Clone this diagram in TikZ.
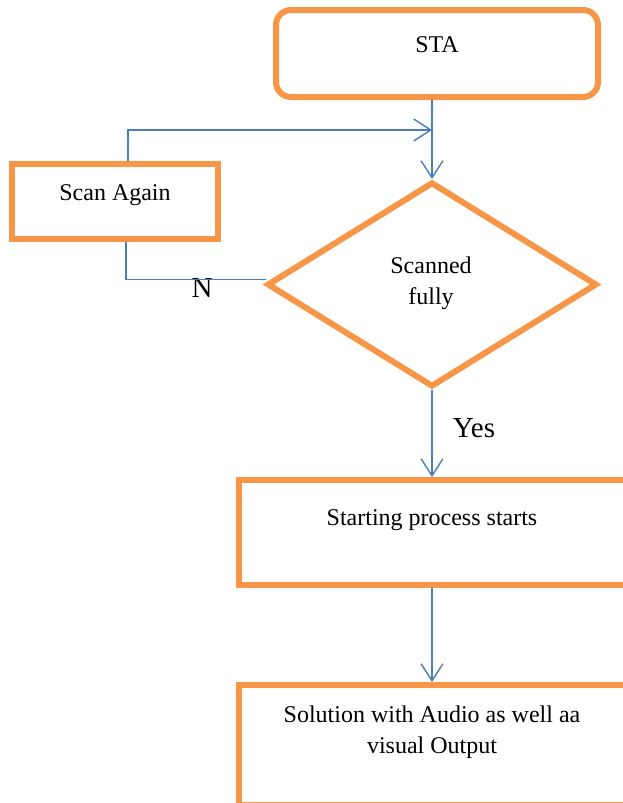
\documentclass[tikz,border=0pt]{standalone}
\usepackage{fontspec}
\setmainfont{Liberation Serif}
\usetikzlibrary{shapes.geometric,arrows.meta}
\definecolor{boxorange}{HTML}{F79646}
\definecolor{linkblue}{HTML}{4A7EBB}
\tikzset{
  box/.style={draw=boxorange, line width=6pt, fill=white, inner sep=0pt, rectangle},
  decision/.style={draw=boxorange, line width=6pt, fill=white, inner sep=0pt,
    diamond, minimum width=330pt, minimum height=205pt},
  txt/.style={inner sep=0pt, font=\fontsize{24}{31}\selectfont, align=center},
  bigtxt/.style={inner sep=0pt, font=\fontsize{29}{34}\selectfont},
  link/.style={draw=linkblue, line width=1.4pt,
    -{Straight Barb[length=17pt, width=22pt, line width=1.4pt]}},
  plain/.style={draw=linkblue, line width=1.4pt}
}
\begin{document}
\begin{tikzpicture}[x=1pt, y=-1pt]
\useasboundingbox (0,0) rectangle (623,803);
\clip (0,0) rectangle (623,803);

% boxes
\node[box, rounded corners=15pt, minimum width=322pt, minimum height=87pt] (sta) at (437,53.5) {};
\node[box, minimum width=206pt, minimum height=75pt] (scan) at (115,201.5) {};
\node[decision] (dia) at (432,284.5) {};
\node[box, minimum width=387pt, minimum height=105pt] (start) at (432.5,532.5) {};
\node[box, minimum width=387pt, minimum height=120pt] (sol) at (432.5,745) {};

% texts
\node[txt, anchor=base] (staT) at (437,52) {STA};
\node[txt, anchor=base] (scanT) at (115,200) {Scan Again};
\node[txt] (diaT) at (431,283) {Scanned\\fully};
\node[txt, anchor=base] (startT) at (432,525) {Starting process starts};
\node[txt] (solT) at (432,732) {Solution with Audio as well aa\\visual Output};
\node[bigtxt, anchor=base] (yesT) at (474,437) {Yes};
\node[bigtxt, anchor=base] (nT) at (202,297) {N};

% connectors
\coordinate (join) at (dia.north |- 0,130);
\draw[link] (dia.north |- sta.south) -- (dia.north);
\draw[link] ([xshift=13pt]scan.north) |- (join);
\draw[plain] ([xshift=11pt]scan.south) |- ([xshift=2pt,yshift=5pt]dia.west);
\draw[link] (dia.south) -- (dia.south |- start.north);
\draw[link] (dia.south |- start.south) -- (dia.south |- sol.north);
\end{tikzpicture}
\end{document}
